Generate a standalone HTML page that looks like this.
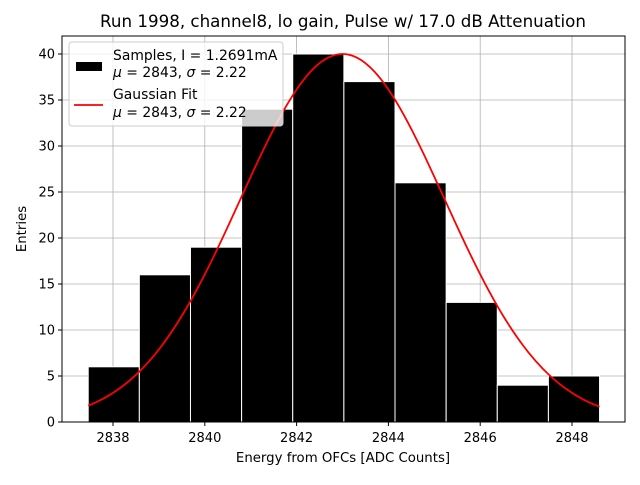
<!DOCTYPE html>
<html><head><meta charset="utf-8"><style>
body{margin:0;background:#fff;}
svg text{font-family:"DejaVu Sans","Liberation Sans",sans-serif;}
</style></head><body>
<svg id="chart" width="640" height="480" xmlns="http://www.w3.org/2000/svg">
<rect width="640" height="480" fill="#fff"/>
<text x="343" y="27" font-size="16.7" text-anchor="middle">Run 1998, channel8, lo gain, Pulse w/ 17.0 dB Attenuation</text>
<g id="grid"></g>
<g id="bars"></g>
<path id="fit" fill="none" stroke="red" stroke-width="1.8"/>
<rect x="62" y="36" width="563" height="386" fill="none" stroke="#000" stroke-width="1"/>
<g id="ticks"></g>
<text x="343" y="462" font-size="13.3" text-anchor="middle">Energy from OFCs [ADC Counts]</text>
<text transform="translate(26,229) rotate(-90)" font-size="13.3" text-anchor="middle">Entries</text>
<g>
<rect x="69" y="42" width="214" height="84" rx="3" fill="#fff" fill-opacity="0.8" stroke="#ccc"/>
<rect x="76" y="62" width="26" height="9" fill="#000"/>
<text x="113" y="60" font-size="13.9">Samples, I = 1.2691mA</text>
<text x="113" y="77" font-size="13.9"><tspan font-style="italic">μ</tspan> = 2843, <tspan font-style="italic">σ</tspan> = 2.22</text>
<line x1="74" y1="105" x2="103" y2="105" stroke="red" stroke-width="1.8"/>
<text x="113" y="99" font-size="13.9">Gaussian Fit</text>
<text x="113" y="117" font-size="13.9"><tspan font-style="italic">μ</tspan> = 2843, <tspan font-style="italic">σ</tspan> = 2.22</text>
</g>
</svg>
<script>
const binStart = 2837.46;
const binWidth = 1.114;
const counts = [6,16,19,34,40,37,26,13,4,5];
const xTicks = [2838,2840,2842,2844,2846,2848];
const yTicks = [0,5,10,15,20,25,30,35,40];
const fitMu = 2843, fitSigma = 2.22, fitAmp = 40;
const NS='http://www.w3.org/2000/svg';
const X = v => 113 + (v-2838)*45.9;
const Y = v => 422 - v*9.2;
function mk(t,a,p){const e=document.createElementNS(NS,t);for(const k in a)e.setAttribute(k,a[k]);p.appendChild(e);return e;}
const grid=document.getElementById('grid'),bars=document.getElementById('bars'),ticks=document.getElementById('ticks');
xTicks.forEach(v=>{
 const g=mk('line',{x1:X(v),x2:X(v),y1:36,y2:422,stroke:'#b0b0b0','stroke-width':0.8},grid);
 
 
 mk('line',{x1:X(v),x2:X(v),y1:422,y2:426,stroke:'#000'},ticks);
 const t=mk('text',{x:X(v),y:442,'font-size':13,'text-anchor':'middle'},ticks);t.textContent=v;
 
 
});
yTicks.forEach(v=>{
 const g=mk('line',{x1:62,x2:625,y1:Y(v),y2:Y(v),stroke:'#b0b0b0','stroke-width':0.8},grid);
 
 
 mk('line',{x1:58,x2:62,y1:Y(v),y2:Y(v),stroke:'#000'},ticks);
 const t=mk('text',{x:55,y:Y(v)+4.5,'font-size':13,'text-anchor':'end'},ticks);t.textContent=v;
 
 
});
counts.forEach((c,i)=>{
 const x0=X(binStart+i*binWidth),x1=X(binStart+(i+1)*binWidth);
 const r=mk('rect',{x:x0,y:Y(c),width:x1-x0,height:Y(0)-Y(c),fill:'#000',stroke:'#fff','stroke-width':1},bars);
 
 
});
let d='';const a=binStart,b=binStart+binWidth*counts.length;
for(let i=0;i<=200;i++){const v=a+(b-a)*i/200;const y=fitAmp*Math.exp(-0.5*((v-fitMu)/fitSigma)**2);d+=(i?'L':'M')+X(v).toFixed(2)+','+Y(y).toFixed(2);}
document.getElementById('fit').setAttribute('d',d);
</script>
</body></html>
